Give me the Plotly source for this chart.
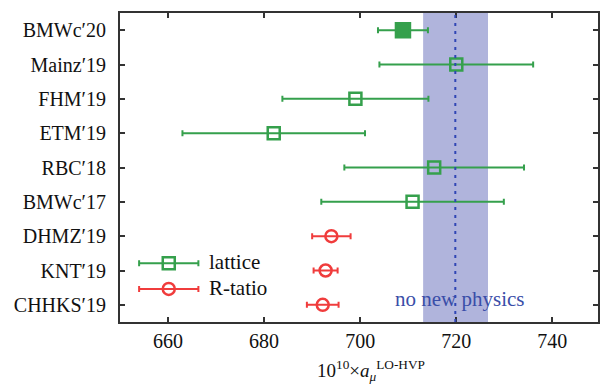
import plotly.graph_objects as go

# ---- data ----
labels = ["BMWc′20", "Mainz′19", "FHM′19", "ETM′19", "RBC′18", "BMWc′17",
          "DHMZ′19", "KNT′19", "CHHKS′19"]
lattice_labels = ["BMWc′20", "Mainz′19", "FHM′19", "ETM′19", "RBC′18", "BMWc′17"]
lattice_vals = [708.9, 720.0, 699.0, 682.0, 715.4, 710.9]
lattice_err = [5.2, 16.0, 15.2, 19.0, 18.7, 19.0]
lattice_filled = [True, False, False, False, False, False]
rratio_labels = ["DHMZ′19", "KNT′19", "CHHKS′19"]
rratio_vals = [694.0, 692.8, 692.2]
rratio_err = [4.0, 2.5, 3.3]
band_lo, band_hi, band_center = 713.1, 726.6, 719.8
xticks = [660, 680, 700, 720, 740]

GREEN = "#35a04c"
RED = "#f03c3c"
FONT = "Liberation Serif"

fig = go.Figure()

fig.add_shape(type="rect", xref="x", yref="paper", x0=band_lo, x1=band_hi, y0=0, y1=1,
              fillcolor="#b0b4dc", line_width=0, layer="below")
fig.add_shape(type="line", xref="x", yref="paper", x0=band_center, x1=band_center, y0=0, y1=1,
              line=dict(color="#2f45b5", width=2, dash="3px,5px"), layer="above")

for lab, v, e, f in zip(lattice_labels, lattice_vals, lattice_err, lattice_filled):
    fig.add_trace(go.Scatter(
        x=[v], y=[lab], mode="markers",
        marker=dict(symbol="square" if f else "square-open", size=14 if f else 12,
                    color=GREEN, line=dict(color=GREEN, width=2.5)),
        error_x=dict(type="data", array=[e], color=GREEN, thickness=2, width=3),
        showlegend=False))

fig.add_trace(go.Scatter(
    x=rratio_vals, y=rratio_labels, mode="markers",
    marker=dict(symbol="circle-open", size=12, color=RED, line=dict(color=RED, width=2.5)),
    error_x=dict(type="data", array=rratio_err, color=RED, thickness=2, width=3),
    showlegend=False))

# legend samples on an overlay axis in fractional coordinates
fig.add_trace(go.Scatter(
    x=[0.102], y=[0.19], xaxis="x2", yaxis="y2", mode="markers",
    marker=dict(symbol="square-open", size=12, color=GREEN, line=dict(color=GREEN, width=2.5)),
    error_x=dict(type="data", array=[0.062], color=GREEN, thickness=2, width=3),
    showlegend=False))
fig.add_trace(go.Scatter(
    x=[0.102], y=[0.107], xaxis="x2", yaxis="y2", mode="markers",
    marker=dict(symbol="circle-open", size=12, color=RED, line=dict(color=RED, width=2.5)),
    error_x=dict(type="data", array=[0.062], color=RED, thickness=2, width=3),
    showlegend=False))

fig.add_annotation(xref="paper", yref="paper", x=0.183, y=0.195, text="lattice",
                   showarrow=False, xanchor="left", yanchor="middle",
                   font=dict(family=FONT, size=21, color="#111111"))
fig.add_annotation(xref="paper", yref="paper", x=0.183, y=0.11, text="R-tatio",
                   showarrow=False, xanchor="left", yanchor="middle",
                   font=dict(family=FONT, size=21, color="#111111"))
fig.add_annotation(xref="x", yref="paper", x=720.8, y=0.075, text="no new physics",
                   showarrow=False, xanchor="center", yanchor="middle",
                   font=dict(family=FONT, size=21, color="#3a4ea8"))
fig.add_annotation(xref="paper", yref="paper", x=0.525, y=-0.158,
                   text="10<sup>10</sup>×<i>a</i><sub><i>μ</i></sub><sup>LO-HVP</sup>",
                   showarrow=False, xanchor="center", yanchor="middle",
                   font=dict(family=FONT, size=19, color="#111111"))

axis_common = dict(showline=True, linecolor="#333333", linewidth=2, mirror="allticks",
                   ticks="inside", ticklen=5, tickwidth=1.5, tickcolor="#333333",
                   showgrid=False, zeroline=False,
                   tickfont=dict(family=FONT, size=20, color="#111111"))

fig.update_layout(
    width=603, height=385,
    margin=dict(l=120, r=3, t=13, b=63),
    plot_bgcolor="white", paper_bgcolor="white",
    font=dict(family=FONT),
    xaxis=dict(range=[650, 749.5], tickvals=xticks, **axis_common),
    yaxis=dict(type="category", categoryorder="array", categoryarray=labels,
               range=[8.5, -0.5], ticklabelstandoff=8, **axis_common),
    xaxis2=dict(overlaying="x", range=[0, 1], visible=False),
    yaxis2=dict(overlaying="y", range=[0, 1], visible=False),
    showlegend=False,
)

fig.write_html("out.html")
